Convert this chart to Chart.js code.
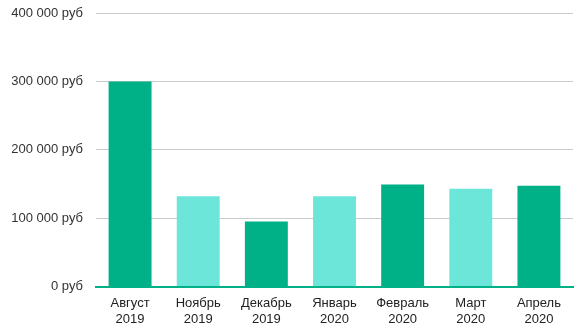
<!DOCTYPE html>
<html>
<head>
<meta charset="utf-8">
<script src="https://cdn.jsdelivr.net/npm/chart.js@4/dist/chart.umd.min.js"></script>
<style>
  html, body { margin: 0; padding: 0; background: #fff; }
  #wrap { width: 583px; height: 332px; }
</style>
</head>
<body>
<div id="wrap"><canvas id="salesChart"></canvas></div>
<script>
// подписи по оси X (месяц + год)
const months = [['Август', '2019'], ['Ноябрь', '2019'], ['Декабрь', '2019'], ['Январь', '2020'], ['Февраль', '2020'], ['Март', '2020'], ['Апрель', '2020']];
const revenue = [300000, 132000, 95000, 132000, 149000, 143000, 147500];
const barColors = ['#00b087', '#6de6da', '#00b087', '#6de6da', '#00b087', '#6de6da', '#00b087'];
const yTicks = [0, 100000, 200000, 300000, 400000];

const fmtRub = v => String(v).replace(/\B(?=(\d{3})+(?!\d))/g, ' ') + ' руб';

const ctx = document.getElementById('salesChart').getContext('2d');

new Chart(ctx, {
    type: 'bar',
    data: {
        labels: months,
        datasets: [
            {
                data: revenue,
                backgroundColor: barColors,
                borderWidth: 0,
                barPercentage: 0.63,
                categoryPercentage: 1.0
            }
        ]
    },
    options: {
        responsive: true,
        maintainAspectRatio: false,
        animation: false,
        layout: {
            padding: { top: 13, right: 10, left: 0, bottom: -5 }
        },
        plugins: {
            legend: { display: false },
            tooltip: { enabled: false }
        },
        scales: {
            y: {
                min: 0,
                max: 400000,
                afterBuildTicks: axis => { axis.ticks = yTicks.map(v => ({ value: v })); },
                afterFit: axis => {
                    axis.width = 96;
                    axis.paddingTop = 0; // верхняя подпись не сдвигает область графика
                },
                border: { display: false },
                grid: {
                    color: '#cccccc',
                    lineWidth: 1,
                    drawTicks: false
                },
                ticks: {
                    padding: 13,
                    color: '#333333',
                    font: { family: 'Liberation Sans, Arial, sans-serif', size: 13 },
                    callback: v => fmtRub(v)
                }
            },
            x: {
                border: { display: true, color: '#00b087', width: 2 },
                grid: { display: false, drawTicks: false },
                ticks: {
                    padding: 9,
                    color: '#222222',
                    maxRotation: 0,
                    autoSkip: false,
                    font: { family: 'Liberation Sans, Arial, sans-serif', size: 13, lineHeight: 1.25 }
                }
            }
        }
    }
});
</script>
</body>
</html>
